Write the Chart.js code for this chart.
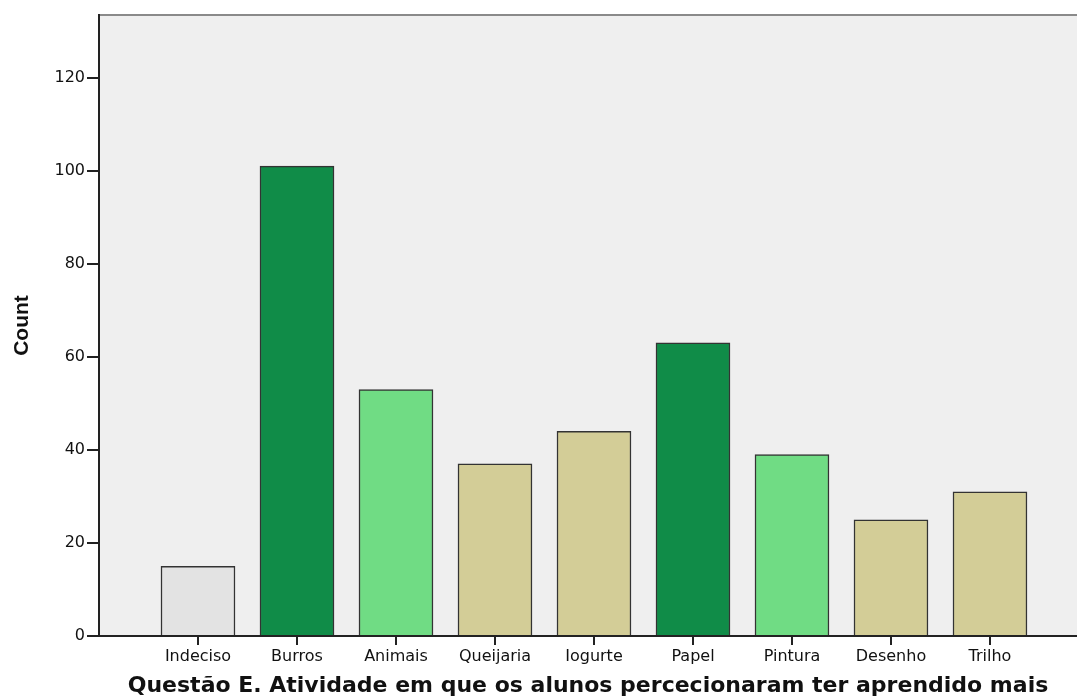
<!DOCTYPE html>
<html>
<head>
<meta charset="utf-8">
<script src="https://cdn.jsdelivr.net/npm/chart.js@4.4.1/dist/chart.umd.min.js"></script>
<style>
  html, body { margin: 0; padding: 0; background: #fff; overflow: hidden; }
</style>
</head>
<body>
<canvas id="bar-chartcanvas" width="1077" height="699"></canvas>
<script>
// categories and counts
var categories = ["Indeciso", "Burros", "Animais", "Queijaria", "Iogurte", "Papel", "Pintura", "Desenho", "Trilho"];
var counts = [15, 101, 53, 37, 44, 63, 39, 25, 31];
var yTicks = [0, 20, 40, 60, 80, 100, 120];

var barColors = ["#e3e3e3", "#108c48", "#70dc84", "#d3cd97", "#d3cd97", "#108c48", "#70dc84", "#d3cd97", "#d3cd97"];

var points = [];
for (var i = 0; i < categories.length; i++) {
	points.push({ x: i, y: counts[i] });
}

// grey plot background + top frame line
var plotBackground = {
	id: "plotBackground",
	beforeDraw: function(chart) {
		var a = chart.chartArea;
		var ctx = chart.ctx;
		ctx.save();
		ctx.fillStyle = "#efefef";
		ctx.fillRect(a.left, a.top, a.right - a.left, a.bottom - a.top);
		ctx.strokeStyle = "#8a8a8a";
		ctx.lineWidth = 2;
		ctx.beginPath();
		ctx.moveTo(a.left, a.top);
		ctx.lineTo(a.right, a.top);
		ctx.stroke();
		ctx.restore();
	}
};

var ctx = document.getElementById("bar-chartcanvas");

var options = {
	responsive: false,
	animation: false,
	layout: { padding: { top: 15, left: 0, right: 0, bottom: 0 } },
	plugins: {
		legend: { display: false },
		tooltip: { enabled: false }
	},
	scales: {
		x: {
			type: "linear",
			min: -1,
			max: 8.879,
			offset: false,
			afterFit: function(scale) { scale.height = 63; },
			border: { display: true, color: "#222", width: 2 },
			grid: {
				offset: false,
				drawOnChartArea: false,
				drawTicks: true,
				tickLength: 9,
				color: function(c) {
					return (c.tick && c.tick.value >= 0) ? "#222" : "rgba(0,0,0,0)";
				},
				lineWidth: 2
			},
			ticks: {
				stepSize: 1,
				includeBounds: false,
				autoSkip: false,
				maxRotation: 0,
				padding: 2,
				color: "#111",
				font: { family: "DejaVu Sans", size: 16 },
				callback: function(v) {
					return categories[v] !== undefined ? categories[v] : "";
				}
			},
			title: {
				display: true,
				text: "Questão E. Atividade em que os alunos percecionaram ter aprendido mais",
				color: "#111",
				font: { family: "DejaVu Sans", size: 22, weight: "bold" },
				padding: { top: 0, bottom: 0 }
			}
		},
		y: {
			min: 0,
			max: 133.5,
			afterFit: function(scale) { scale.width = 99; },
			border: { display: true, color: "#222", width: 2 },
			grid: {
				drawOnChartArea: false,
				drawTicks: true,
				tickLength: 12,
				color: "#222",
				lineWidth: 2
			},
			afterBuildTicks: function(scale) {
				scale.ticks = yTicks.map(function(v) { return { value: v }; });
			},
			ticks: {
				padding: 2,
				color: "#111",
				font: { family: "DejaVu Sans", size: 16 }
			},
			title: {
				display: true,
				text: "Count",
				color: "#111",
				font: { family: "Liberation Sans", size: 21, weight: "bold" },
				padding: { top: 10, bottom: 0 }
			}
		}
	}
};

var chart = new Chart(ctx, {
	type: "bar",
	data: {
		datasets: [{
			label: "Count",
			data: points,
			backgroundColor: barColors,
			borderColor: "#333",
			borderWidth: 1.5,
			barThickness: 74
		}]
	},
	options: options,
	plugins: [plotBackground]
});
</script>
</body>
</html>
